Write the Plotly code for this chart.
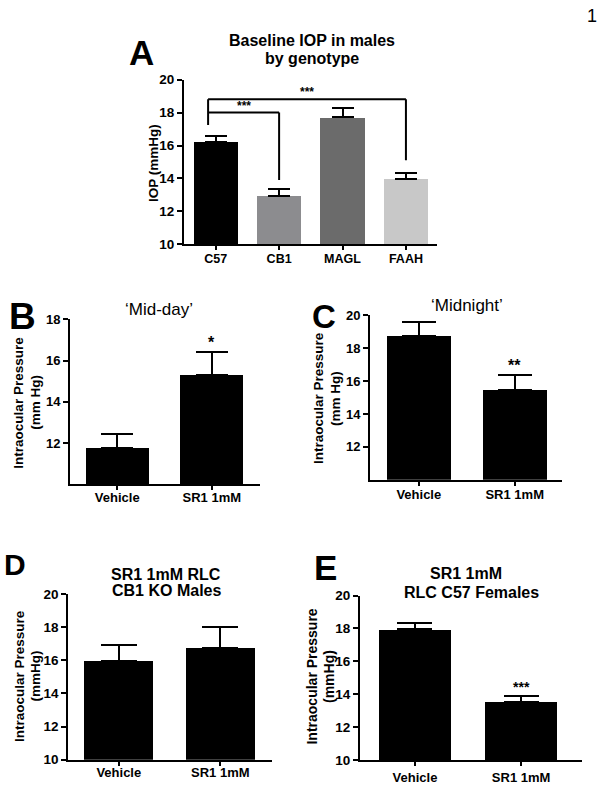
import plotly.graph_objects as go

W, H = 600, 789
FONT = "Liberation Sans, Arial, sans-serif"

# ---------------- data ----------------
A_categories = ["C57", "CB1", "MAGL", "FAAH"]
A_means = [16.23, 12.96, 17.72, 13.99]
A_sem = [0.37, 0.39, 0.54, 0.37]
A_colors = ["#000000", "#8c8c8f", "#6b6b6b", "#c8c8c8"]
A_bracket_pairs = [(0, 1), (0, 3)]
A_bracket_levels = [18.0, 18.8]
A_bracket_right_ends = [13.9, 15.1]
A_bracket_left_end = 17.25
A_bracket_labels = ["***", "***"]

BCDE_categories = ["Vehicle", "SR1 1mM"]
B_means = [11.75, 15.29]
B_sem = [0.71, 1.14]
B_sig = ["", "*"]

C_means = [18.75, 15.47]
C_sem = [0.85, 0.93]
C_sig = ["", "**"]

D_means = [15.94, 16.75]
D_sem = [0.96, 1.25]
D_sig = ["", ""]

E_means = [17.96, 13.55]
E_sem = [0.39, 0.33]
E_sig = ["", "***"]

A_yticks = [10, 12, 14, 16, 18, 20]
B_yticks = [12, 14, 16, 18]
C_yticks = [12, 14, 16, 18, 20]
D_yticks = [10, 12, 14, 16, 18, 20]
E_yticks = [10, 12, 14, 16, 18, 20]


def px(x):
    return x / W


def py(y):
    return 1 - y / H


fig = go.Figure()

panels = [
    dict(key="", means=A_means, sem=A_sem, colors=A_colors, cats=A_categories,
         xd=(184, 437), yd=(74, 242), xr=[-0.5, 3.49], yr=[10, 20], yt=A_yticks,
         bw=0.7, cap=11, tf=12.5, ytf=13.5, sig=None, sigsize=12, stand=-2),
    dict(key="2", means=B_means, sem=B_sem, colors=["#000000"] * 2, cats=BCDE_categories,
         xd=(70, 260), yd=(318.3, 486.7), xr=[-0.5, 1.51], yr=[10, 18], yt=B_yticks,
         bw=0.667, cap=16, tf=13, ytf=13, sig=B_sig, sigsize=16, stand=-4),
    dict(key="3", means=C_means, sem=C_sem, colors=["#000000"] * 2, cats=BCDE_categories,
         xd=(370, 561.7), yd=(314.3, 482), xr=[-0.509, 1.49], yr=[10, 20], yt=C_yticks,
         bw=0.67, cap=17, tf=13, ytf=13, sig=C_sig, sigsize=16, stand=-2),
    dict(key="4", means=D_means, sem=D_sem, colors=["#000000"] * 2, cats=BCDE_categories,
         xd=(68.3, 271.7), yd=(598.3, 767.3), xr=[-0.4975, 1.506], yr=[10, 20], yt=D_yticks,
         bw=0.68, cap=18, tf=13, ytf=13.5, sig=D_sig, sigsize=14, stand=-4),
    dict(key="5", means=E_means, sem=E_sem, colors=["#000000"] * 2, cats=BCDE_categories,
         xd=(360, 581.7), yd=(600, 767.7), xr=[-0.518, 1.571], yr=[10, 20], yt=E_yticks,
         bw=0.68, cap=17.5, tf=13, ytf=13.5, sig=E_sig, sigsize=14, stand=0),
]

annotations = []
shapes = []

for p in panels:
    k = p["key"]
    xs = list(range(len(p["cats"])))
    fig.add_trace(go.Bar(
        x=xs, y=p["means"], width=p["bw"],
        marker=dict(color=p["colors"], line=dict(width=0)),
        error_y=dict(type="data", array=p["sem"], arrayminus=[0] * len(xs), symmetric=False,
                     color="black", thickness=2, width=p["cap"]),
        xaxis="x" + k, yaxis="y" + k, showlegend=False, hoverinfo="skip",
    ))
    axcommon = dict(showline=True, linecolor="black", linewidth=2, ticks="outside",
                    tickcolor="black", tickwidth=2, showgrid=False, zeroline=False)
    fig.update_layout(**{
        "xaxis" + k: dict(domain=[px(p["xd"][0]), px(p["xd"][1])], range=p["xr"],
                          tickvals=xs, ticktext=p["cats"], ticklen=4,
                          ticklabelstandoff=p["stand"],
                          tickfont=dict(family=FONT, size=p["tf"], color="black", weight="bold"),
                          anchor="y" + k, fixedrange=True, **axcommon),
        "yaxis" + k: dict(domain=[py(p["yd"][1]), py(p["yd"][0])], range=p["yr"],
                          tickvals=p["yt"], ticklen=5, anchor="x" + k, fixedrange=True,
                          tickfont=dict(family=FONT, size=p["ytf"], color="black", weight="bold"),
                          **axcommon),
    })
    if p["sig"]:
        for i, s in enumerate(p["sig"]):
            if s:
                annotations.append(dict(x=i, y=p["means"][i] + p["sem"][i],
                                        xref="x" + k, yref="y" + k, text=s, showarrow=False,
                                        yanchor="bottom", yshift=-1,
                                        font=dict(family=FONT, size=p["sigsize"], color="black",
                                                  weight="bold")))

# significance brackets on panel A
left_x = A_bracket_pairs[0][0] - 0.12
shapes.append(dict(type="line", xref="x", yref="y", x0=left_x, x1=left_x,
                   y0=A_bracket_left_end, y1=max(A_bracket_levels),
                   line=dict(color="black", width=2)))
for (a, b), lvl, rend, lab in zip(A_bracket_pairs, A_bracket_levels, A_bracket_right_ends,
                                  A_bracket_labels):
    xa = a - 0.12
    shapes.append(dict(type="line", xref="x", yref="y", x0=xa, x1=b, y0=lvl, y1=lvl,
                       line=dict(color="black", width=2)))
    shapes.append(dict(type="line", xref="x", yref="y", x0=b, x1=b, y0=lvl, y1=rend,
                       line=dict(color="black", width=2)))
    annotations.append(dict(x=(xa + b) / 2, y=lvl, xref="x", yref="y", text=lab,
                            showarrow=False, yanchor="bottom", yshift=-2,
                            font=dict(family=FONT, size=12, color="black", weight="bold")))


def txt(x, y, s, size, bold=True, angle=0):
    annotations.append(dict(x=px(x), y=py(y), xref="paper", yref="paper", text=s,
                            showarrow=False, xanchor="center", yanchor="middle",
                            textangle=angle,
                            font=dict(family=FONT, size=size, color="black",
                                      weight="bold" if bold else "normal")))


# panel letters
txt(141, 46, "A", 35)
txt(22.5, 316, "B", 37)
txt(323.8, 316, "C", 33)
txt(15, 568, "D", 30)
txt(325.5, 571, "E", 35)

# titles
txt(311.5, 34, "Baseline IOP in males", 16)
txt(311.5, 53, "by genotype", 16)
txt(158.7, 308, "‘Mid-day’", 17, bold=False)
txt(467, 304, "‘Midnight’", 17, bold=False)
txt(166, 578, "SR1 1mM RLC", 16)
txt(166, 595, "CB1 KO Males", 16)
txt(466, 577, "SR1 1mM", 16)
txt(471.7, 597, "RLC C57 Females", 16)

# y axis titles
txt(154, 159, "IOP (mmHg)", 13.5, angle=-90)
txt(18.3, 403, "Intraocular Pressure", 13.5, angle=-90)
txt(35.5, 403, "(mm Hg)", 13.5, angle=-90)
txt(318.7, 399, "Intraocular Pressure", 13.5, angle=-90)
txt(335.5, 399, "(mm Hg)", 13.5, angle=-90)
txt(19, 682, "Intraocular Pressure", 13.5, angle=-90)
txt(35.5, 682, "(mmHg)", 13.5, angle=-90)
txt(312.5, 683, "Intraocular Pressure", 14, angle=-90)
txt(329, 683, "(mmHg)", 14, angle=-90)

# page number
txt(592, 9, "1", 18, bold=False)

fig.update_layout(width=W, height=H, autosize=False,
                  margin=dict(l=0, r=0, t=0, b=0),
                  paper_bgcolor="white", plot_bgcolor="white",
                  bargap=0, annotations=annotations, shapes=shapes,
                  font=dict(family=FONT, color="black"))

fig.write_html("out.html", config={"displayModeBar": False},
               post_script="document.body.style.margin='0';document.body.style.padding='0';")
